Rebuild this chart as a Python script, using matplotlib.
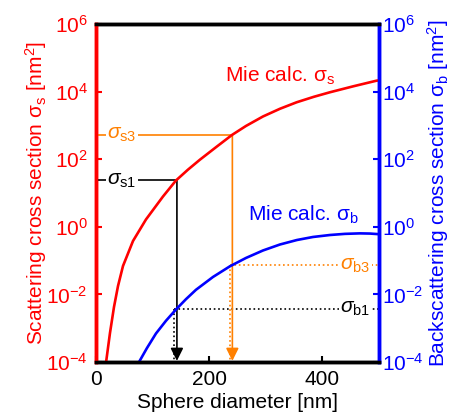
import numpy as np
import matplotlib
matplotlib.use("Agg")
import matplotlib.pyplot as plt

plt.rcParams['font.family'] = ['Liberation Sans', 'DejaVu Sans']
plt.rcParams['mathtext.fontset'] = 'custom'
plt.rcParams['mathtext.rm'] = 'Liberation Sans'
plt.rcParams['mathtext.it'] = 'Liberation Sans:italic'
plt.rcParams['mathtext.default'] = 'it'

# =========================
# Datos
# =========================
# Mie calc. sigma_s (scattering)
diam_s = [17.7, 24.7, 31.8, 38.9, 47.7, 65.4, 88.3, 118.4, 141.3, 162.5, 183.7,
          213.3, 240.3, 265.0, 295.1, 325.1, 354.6, 385.2, 413.4, 455.0, 495.9, 500]
sigma_s = [9.55e-5, 7.21e-4, 4.24e-3, 0.0177, 0.0692, 0.380, 1.644, 7.87, 23.4, 48.9, 96.6,
           234.4, 520, 959, 1832, 3097, 4819, 7015, 9528, 14350, 20990, 21380]

# Mie calc. sigma_b (backscattering)
diam_b = [75.4, 90.1, 106.0, 123.7, 141.3, 159.0, 176.7, 206.7, 236.7, 265.0,
          295.1, 325.1, 355.1, 383.4, 413.4, 439.9, 466.4, 484.1, 500]
sigma_b = [9.55e-5, 2.59e-4, 6.97e-4, 1.66e-3, 3.57e-3, 7.21e-3, 0.01368, 0.0327, 0.0678, 0.1194,
           0.199, 0.299, 0.406, 0.499, 0.571, 0.617, 0.638, 0.630, 0.604]

# puntos marcados: (diametro, sigma_s, sigma_b, etiqueta)
mark_diam = [142, 240]
mark_ss = [24, 520]
mark_sb = [0.0037, 0.072]
mark_names = ['1', '3']
mark_colors = ['black', '#FF8000']

RED = '#FF0000'
BLUE = '#0000FF'
FS = 15

fig = plt.figure(figsize=(4.6, 4.13), dpi=100)
ax = fig.add_axes([0.2087, 0.1235, 0.615, 0.8185])
ax2 = ax.twinx()

ax.plot(diam_s, sigma_s, color=RED, lw=1.9, zorder=5)
ax.plot(diam_b, sigma_b, color=BLUE, lw=1.9, zorder=5)

for i in range(len(mark_diam)):
    d = mark_diam[i]
    c = mark_colors[i]
    n = mark_names[i]
    # sigma_s: horizontal y flecha vertical (solida)
    ax.plot([0, d], [mark_ss[i], mark_ss[i]], color=c, lw=1.2, zorder=3)
    ax.annotate('', xy=(d + 1, 1.08e-4), xytext=(d + 1, mark_ss[i]),
                arrowprops=dict(arrowstyle='-|>', color=c, lw=1.2,
                                mutation_scale=19, shrinkA=0, shrinkB=0),
                zorder=3)
    ax.text(46, mark_ss[i], r'$\sigma_{\mathrm{s%s}}$' % n, color=c, fontsize=FS,
            ha='center', va='center', zorder=4,
            bbox=dict(facecolor='white', edgecolor='none', pad=1))
    # sigma_b: punteadas
    ax.plot([d - 4, 500], [mark_sb[i], mark_sb[i]], color=c, lw=1.2, ls=':', zorder=3)
    ax.plot([d - 4, d - 4], [mark_sb[i], 1e-4], color=c, lw=1.2, ls=':', zorder=3)
    ax.text(458, mark_sb[i], r'$\sigma_{\mathrm{b%s}}$' % n, color=c, fontsize=FS,
            ha='center', va='center', zorder=4,
            bbox=dict(facecolor='white', edgecolor='none', pad=1))

ax.text(228, 10**4.46, r'Mie calc. $\mathrm{\sigma_s}$', color=RED, fontsize=FS,
        ha='left', va='center')
ax.text(269, 10**0.35, r'Mie calc. $\mathrm{\sigma_b}$', color=BLUE, fontsize=FS,
        ha='left', va='center')

yt = [1e-4, 1e-2, 1e0, 1e2, 1e4, 1e6]
for a in (ax, ax2):
    a.set_yscale('log')
    a.set_ylim(1e-4, 1e6)
    a.set_yticks(yt)
    a.minorticks_off()
ax.set_xlim(0, 500)
ax.set_xticks([0, 200, 400])

ax.tick_params(axis='x', direction='in', length=4, width=1.5, labelsize=FS, pad=6)
ax.tick_params(axis='y', direction='in', length=4, width=1.5, colors=RED,
               labelsize=FS, pad=6)
ax2.tick_params(axis='y', direction='in', length=4, width=1.5, colors=BLUE,
                labelsize=FS, pad=2)

ax.set_xlabel('Sphere diameter [nm]', fontsize=FS, labelpad=3)
ax.set_ylabel(r'Scattering cross section $\mathrm{\sigma_s}$ [nm$^\mathrm{2}$]',
              color=RED, fontsize=FS, labelpad=-2)
ax2.set_ylabel(r'Backscattering cross section $\mathrm{\sigma_b}$ [nm$^\mathrm{2}$]',
               color=BLUE, fontsize=FS, labelpad=1)

for a in (ax, ax2):
    a.spines['top'].set_color('black')
    a.spines['bottom'].set_color('black')
    a.spines['top'].set_linewidth(2.5)
    a.spines['bottom'].set_linewidth(2.5)
    a.spines['left'].set_color(RED)
    a.spines['left'].set_linewidth(2.5)
    a.spines['right'].set_color(BLUE)
    a.spines['right'].set_linewidth(2.5)

fig.savefig('out.png', dpi=100)
